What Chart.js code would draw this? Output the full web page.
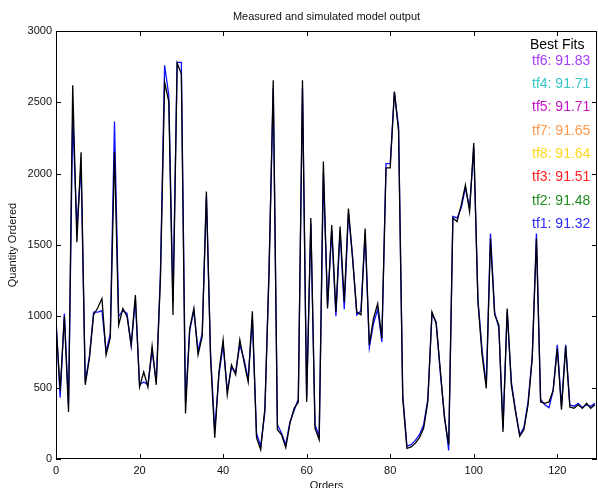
<!DOCTYPE html>
<html>
<head>
<meta charset="utf-8">
<title>Measured and simulated model output</title>
<script src="https://cdn.jsdelivr.net/npm/chart.js@4.4.1/dist/chart.umd.min.js"></script>
<style>
    html, body { margin: 0; padding: 0; background: #fff; }
    #wrap { width: 598px; height: 488px; }
</style>
</head>
<body>
<div id="wrap"><canvas id="modelChart" width="598" height="488"></canvas></div>
<script>
/* ================================
   MEASURED VS SIMULATED OUTPUT
   ================================ */

// Measured quantity per order (black line)
const measured = [
    950, 480, 1000, 330, 2620, 1520, 2150, 520, 705, 1010,
    1060, 1125, 730, 850, 2155, 940, 1055, 1000, 800, 1150,
    505, 610, 505, 790, 520, 1265, 2640, 2505, 1010, 2775,
    2700, 320, 915, 1055, 730, 860, 1875, 705, 150, 610,
    835, 450, 660, 590, 835, 680, 540, 1035, 150, 65,
    355, 1300, 2655, 205, 170, 80, 250, 355, 400, 2655,
    400, 1690, 215, 135, 2085, 1055, 1640, 1030, 1630, 1100,
    1755, 1400, 1030, 1010, 1615, 800, 985, 1090, 845, 2040,
    2040, 2575, 2300, 425, 75, 85, 110, 150, 215, 400,
    1030, 950, 620, 285, 100, 1690, 1665, 1780, 1920, 1735,
    2215, 1100, 730, 495, 1545, 1010, 940, 190, 1055, 520,
    330, 160, 205, 380, 705, 1545, 400, 390, 400, 480,
    775, 345, 790, 365, 355, 380, 355, 390, 355, 380
];

// Best fit model output, tf1 (blue line)
const tf1Fit = [
    980, 430, 1020, 380, 2400, 1620, 2050, 540, 720, 1030,
    1030, 1040, 750, 880, 2365, 1000, 1040, 1020, 790, 1120,
    520, 540, 520, 760, 540, 1300, 2760, 2550, 1100, 2780,
    2780, 400, 900, 1040, 760, 880, 1840, 740, 200, 590,
    800, 480, 640, 610, 800, 700, 560, 980, 180, 90,
    330, 1350, 2600, 240, 180, 100, 260, 340, 420, 2600,
    430, 1650, 240, 160, 2000, 1080, 1600, 1000, 1600, 1050,
    1720, 1420, 1010, 1040, 1580, 780, 950, 1050, 820, 2070,
    2070, 2570, 2330, 450, 90, 100, 130, 170, 240, 420,
    1020, 960, 600, 300, 60, 1700, 1690, 1760, 1900, 1760,
    2180, 1120, 760, 520, 1580, 1030, 920, 220, 1030, 540,
    340, 170, 220, 400, 720, 1580, 420, 380, 360, 480,
    800, 370, 800, 380, 370, 390, 360, 380, 370, 390
];

// Fit scores shown in the "Best Fits" box
const fitLabels = ['tf6: 91.83', 'tf4: 91.71', 'tf5: 91.71', 'tf7: 91.65',
                   'tf8: 91.64', 'tf3: 91.51', 'tf2: 91.48', 'tf1: 91.32'];
const fitColors = ['#a63cff', '#33c6c6', '#c814c8', '#ff9a4d',
                   '#ffd91a', '#ff2020', '#1f8c1f', '#2a2aff'];

const FONT = '"Liberation Sans", Arial, sans-serif';

function toPoints(values) {
    return values.map((v, i) => ({ x: i, y: v }));
}

// Box around the axes with MATLAB style inward ticks + text
const matlabFrame = {
    id: 'matlabFrame',
    afterDatasetsDraw(chart) {
        const { ctx, chartArea: a, scales: { x, y } } = chart;
        ctx.save();
        ctx.strokeStyle = '#000';
        ctx.lineWidth = 1;
        ctx.strokeRect(a.left + 0.5, a.top + 0.5, a.right - a.left - 1, a.bottom - a.top - 1);

        ctx.beginPath();
        x.ticks.forEach(t => {
            const px = Math.round(x.getPixelForValue(t.value)) + 0.5;
            ctx.moveTo(px, a.bottom); ctx.lineTo(px, a.bottom - 5);
            ctx.moveTo(px, a.top); ctx.lineTo(px, a.top + 5);
        });
        y.ticks.forEach(t => {
            const py = Math.round(y.getPixelForValue(t.value)) + 0.5;
            ctx.moveTo(a.left, py); ctx.lineTo(a.left + 5, py);
            ctx.moveTo(a.right, py); ctx.lineTo(a.right - 5, py);
        });
        ctx.stroke();

        // title and axis titles
        const midX = (a.left + a.right) / 2;
        ctx.fillStyle = '#111';
        ctx.textAlign = 'center';
        ctx.textBaseline = 'middle';
        ctx.font = '11px ' + FONT;
        ctx.fillText('Measured and simulated model output', midX, 17);
        ctx.fillText('Orders', midX, 486);
        ctx.save();
        ctx.translate(13, (a.top + a.bottom) / 2);
        ctx.rotate(-Math.PI / 2);
        ctx.fillText('Quantity Ordered', 0, 0);
        ctx.restore();

        // Best Fits list
        ctx.textAlign = 'left';
        ctx.font = '14px ' + FONT;
        ctx.fillStyle = '#000';
        ctx.fillText('Best Fits', a.right - 67, a.top + 14);
        fitLabels.forEach((label, i) => {
            ctx.fillStyle = fitColors[i];
            ctx.fillText(label, a.right - 65, a.top + 30 + i * 23.3);
        });
        ctx.restore();
    }
};

new Chart(document.getElementById('modelChart'), {
    type: 'line',
    data: {
        datasets: [
            {
                label: 'Measured',
                data: toPoints(measured),
                borderColor: '#000',
                borderWidth: 1.3,
                pointRadius: 0,
                tension: 0
            },
            {
                label: 'tf1',
                data: toPoints(tf1Fit),
                borderColor: '#1010ff',
                borderWidth: 1.3,
                pointRadius: 0,
                tension: 0
            }
        ]
    },
    options: {
        responsive: false,
        animation: false,
        layout: { padding: { top: 31, right: 1, left: 0, bottom: 0 } },
        plugins: {
            legend: { display: false },
            title: { display: false },
            tooltip: { enabled: false }
        },
        scales: {
            x: {
                type: 'linear',
                min: 0,
                max: 129.5,
                grid: { display: false, drawTicks: false },
                border: { display: false },
                ticks: {
                    stepSize: 20,
                    includeBounds: false,
                    padding: 5,
                    maxRotation: 0,
                    color: '#111',
                    font: { family: FONT, size: 11 },
                    callback: value => String(value)
                },
                afterFit(scale) { scale.height = 29; }
            },
            y: {
                min: 0,
                max: 3000,
                grid: { display: false, drawTicks: false },
                border: { display: false },
                ticks: {
                    stepSize: 500,
                    padding: 4,
                    color: '#111',
                    font: { family: FONT, size: 11 },
                    callback: value => String(value)
                },
                afterFit(scale) { scale.width = 56; }
            }
        }
    },
    plugins: [matlabFrame]
});
</script>
</body>
</html>
